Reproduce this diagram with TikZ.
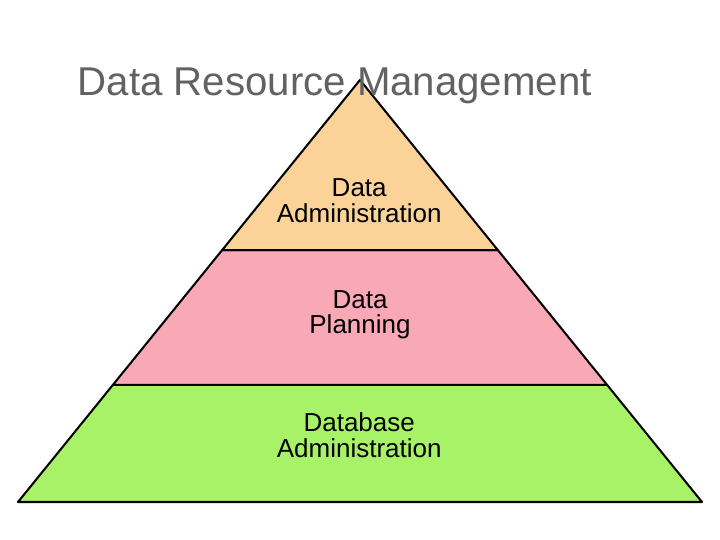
\documentclass[tikz,border=0pt]{standalone}
\usepackage{fontspec}
\setmainfont{Liberation Sans}
\usetikzlibrary{calc}
\definecolor{adminfill}{HTML}{FBD399}
\definecolor{planfill}{HTML}{F9A8B6}
\definecolor{dbfill}{HTML}{A8F267}
\definecolor{titlegray}{HTML}{626262}
\tikzset{
    layer/.style={draw=black, line width=1.45pt, line join=round},
    lbl/.style={align=center, font=\fontsize{18.5}{18}\selectfont, text=black}
}
\begin{document}
\begin{tikzpicture}
    \useasboundingbox (0, 0) rectangle (18, 13.5);
    \coordinate (apex) at (9, 11.5);
    \coordinate (bl) at (0.45, 0.95);
    \coordinate (br) at (17.55, 0.95);
    \coordinate (ul) at ($(apex)!0.403!(bl)$);
    \coordinate (ur) at ($(apex)!0.403!(br)$);
    \coordinate (ml) at ($(apex)!0.7227!(bl)$);
    \coordinate (mr) at ($(apex)!0.7227!(br)$);

    \draw[layer, fill=dbfill]
        (ml) -- (mr) -- (br) -- (bl) -- cycle
    ;
    \draw[layer, fill=planfill]
        (ul) -- (ur) -- (mr) -- (ml) -- cycle
    ;
    \draw[layer, fill=adminfill]
        (apex) -- (ur) -- (ul) -- cycle
    ;

    \node[lbl] (admin) at (8.98, 8.48) {Data\\Administration};
    \node[lbl] (plan) at (9, 5.63) {Data\\Planning};
    \node[lbl] (db) at (8.98, 2.62) {Database\\Administration};

    \node[text=titlegray, font=\fontsize{28.6}{30}\selectfont] (title) at (8.37, 11.36) {Data Resource Management};
\end{tikzpicture}
\end{document}
